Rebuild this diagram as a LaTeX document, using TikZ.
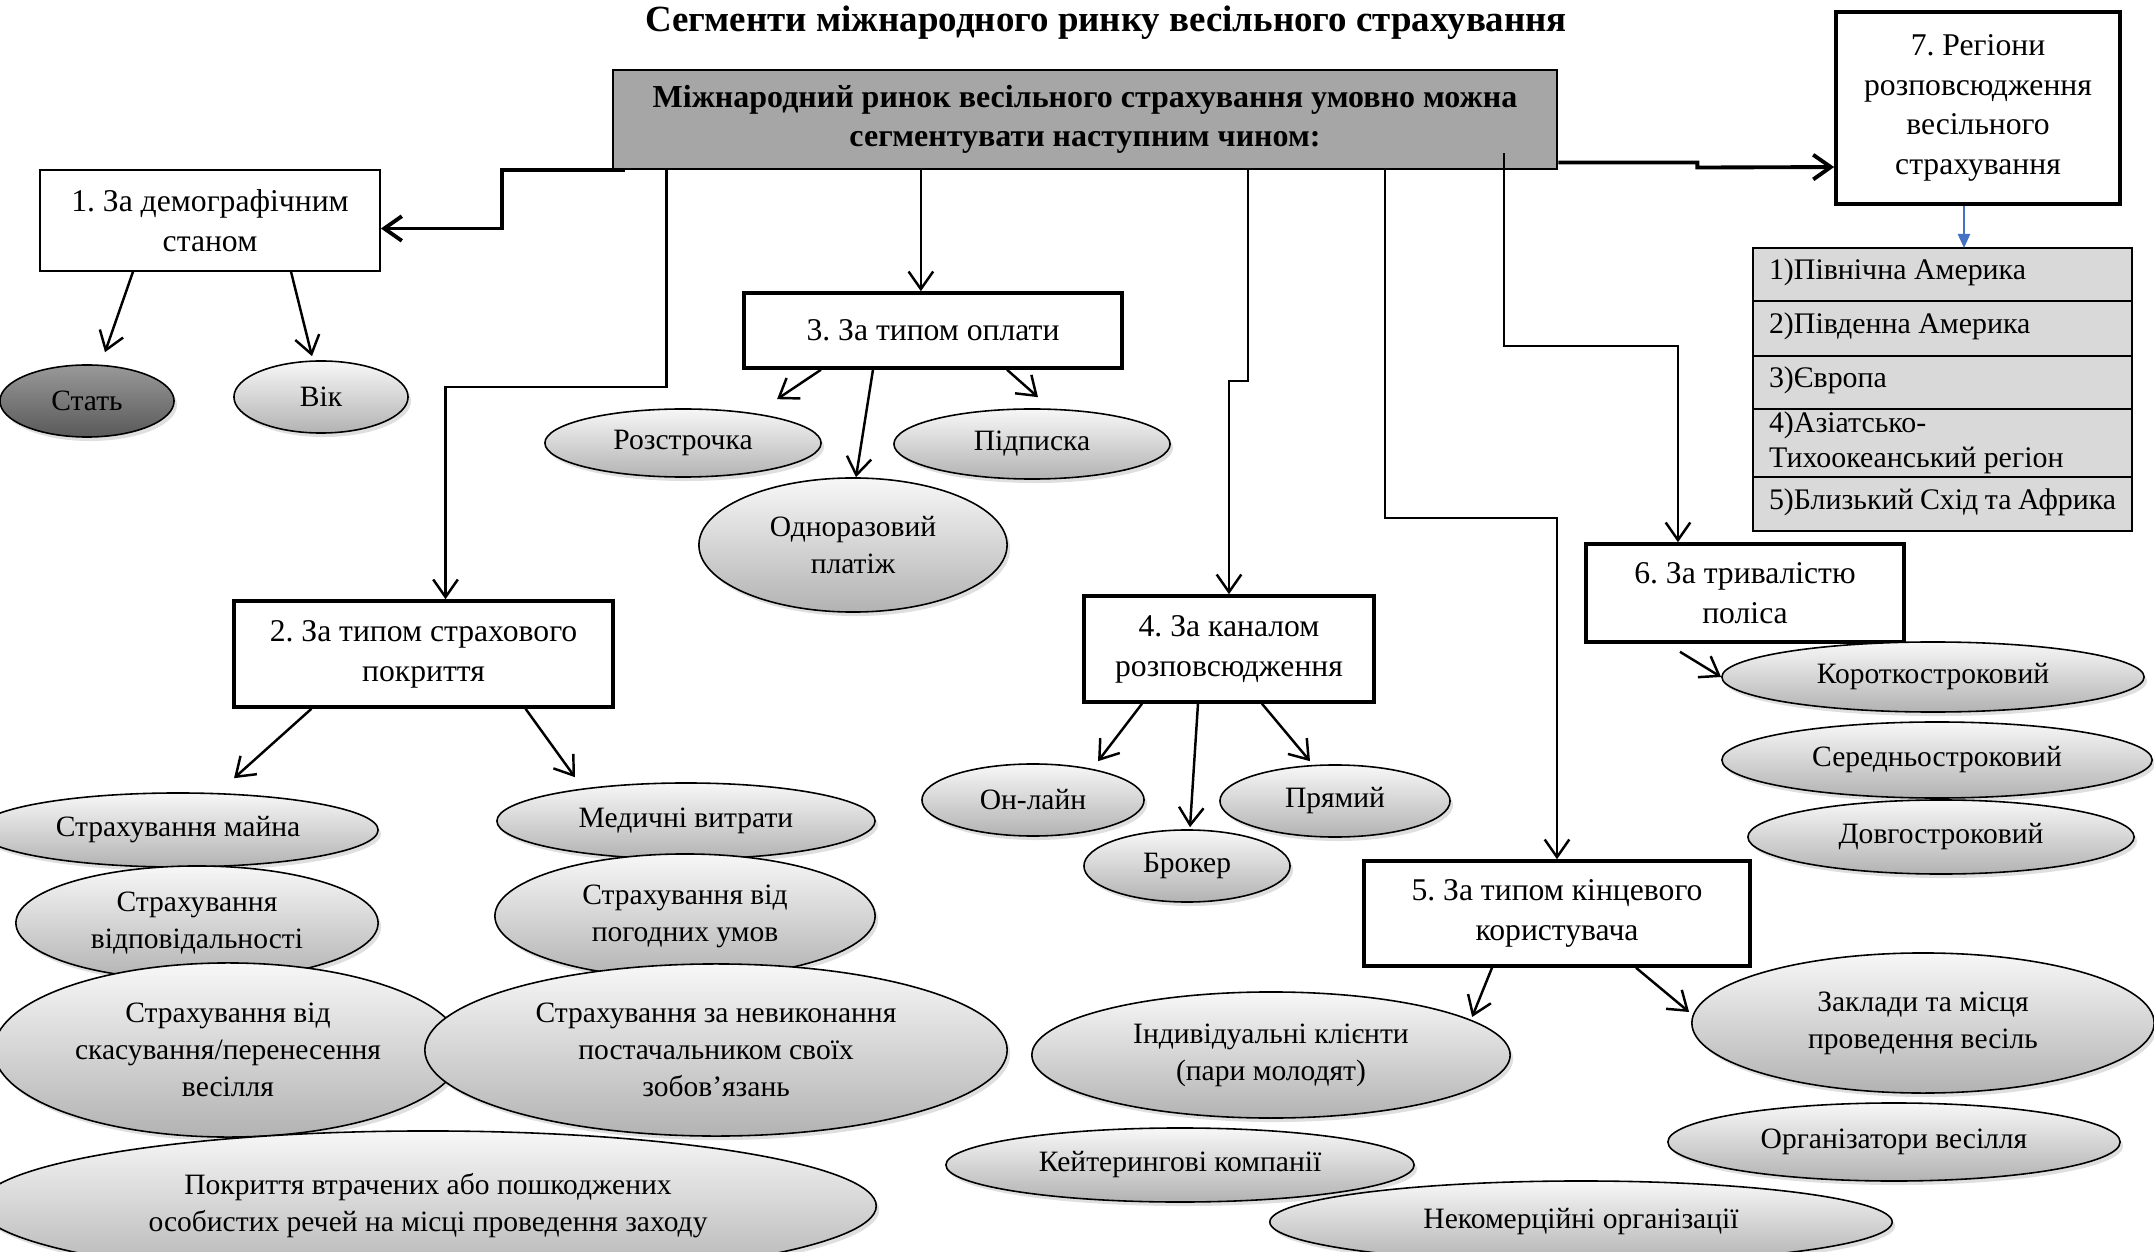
\documentclass[tikz,border=0pt]{standalone}
\usepackage{fontspec}
\setmainfont{Liberation Serif}
\frenchspacing
\usetikzlibrary{arrows.meta,shapes.geometric,shadows,positioning}
\definecolor{regblue}{HTML}{4472C4}
\tikzset{
  box/.style={draw, line width=1pt, align=center, inner sep=0pt, font=\fontsize{9}{11.4}\selectfont},
  oval/.style={ellipse, draw, line width=0.45pt, top color=black!3, bottom color=black!30,
    align=center, inner sep=0pt, font=\fontsize{8.4}{10.5}\selectfont,
    drop shadow={shadow xshift=0.03cm, shadow yshift=-0.04cm, opacity=0.25}},
  conn/.style={->, line width=0.7pt},
  rowbox/.style={draw, line width=0.55pt, fill=black!15, text width=3.47cm,
    inner xsep=0.16cm, inner ysep=0pt, outer sep=0pt, align=left, anchor=north west,
    font=\fontsize{8.5}{10}\selectfont,
    execute at begin node={\spaceskip=0pt\xspaceskip=0pt}}
}
\begin{document}
\begin{tikzpicture}[x=0.01cm, y=-0.01cm, >={Straight Barb[length=5pt,width=7pt]},
    font=\fontsize{9}{11}\selectfont]
\useasboundingbox (0,0) rectangle (2154,1252);
\clip (0,0) rectangle (2154,1252);
% title and main box
\node[font=\fontsize{10.5}{12}\selectfont\bfseries] (title) at (1106,23)
  {Сегменти міжнародного ринку весільного страхування};
\node[draw, line width=0.6pt, fill=black!35, minimum width=9.44cm, minimum height=0.99cm,
  align=center, font=\fontsize{9.1}{11}\selectfont\bfseries] (main) at (1085,119.5)
  {Міжнародний ринок весільного страхування умовно можна\\сегментувати наступним чином:};
% segment boxes
\node[box, line width=0.45pt, minimum width=3.40cm, minimum height=1.01cm] (b1) at (210,220.5) {1. За демографічним\\станом};
\node[box, minimum width=3.79cm, minimum height=1.06cm] (b2) at (423.5,654) {2. За типом страхового\\покриття};
\node[box, minimum width=3.78cm, minimum height=0.75cm] (b3) at (933,330.5) {3. За типом оплати};
\node[box, minimum width=2.90cm, minimum height=1.06cm] (b4) at (1229,649) {4. За каналом\\розповсюдження};
\node[box, minimum width=3.86cm, minimum height=1.05cm] (b5) at (1557,913.5) {5. За типом кінцевого\\користувача};
\node[box, minimum width=3.18cm, minimum height=0.98cm] (b6) at (1745,593) {6. За тривалістю\\поліса};
\node[box, minimum width=2.84cm, minimum height=1.92cm, font=\fontsize{9}{11.2}\selectfont] (b7) at (1978,108)
  {7. Регіони\\розповсюдження\\весільного\\страхування};
% regions table
\node[rowbox, minimum height=0.53cm, text depth=0.1cm] (r1) at (1753,248) {1)Північна Америка};
\node[rowbox, minimum height=0.55cm, text depth=0.1cm] (r2) at (r1.south west) {2)Південна Америка};
\node[rowbox, minimum height=0.53cm, text depth=0.1cm] (r3) at (r2.south west) {3)Європа};
\node[rowbox, minimum height=0.68cm] (r4) at (r3.south west) {4)Азіатсько-\\Тихоокеанський регіон};
\node[rowbox, minimum height=0.54cm, text depth=0.1cm] (r5) at (r4.south west) {5)Близький Схід та Африка};
% ellipses
\node[oval, top color=black!40, bottom color=black!65, minimum width=1.74cm, minimum height=0.72cm] (stat) at (87,401) {Стать};
\node[oval, minimum width=1.74cm, minimum height=0.72cm] (vik) at (321,397) {Вік};
\node[oval, minimum width=2.76cm, minimum height=0.68cm] (rozstr) at (683,443) {Розстрочка};
\node[oval, minimum width=2.76cm, minimum height=0.70cm] (pidp) at (1032,444) {Підписка};
\node[oval, minimum width=3.08cm, minimum height=1.34cm] (odnor) at (853,545) {Одноразовий\\платіж};
\node[oval, minimum width=4.00cm, minimum height=0.74cm] (majno) at (178,830) {Страхування майна};
\node[oval, minimum width=3.62cm, minimum height=1.14cm] (vidp) at (197,923) {Страхування\\відповідальності};
\node[oval, minimum width=4.68cm, minimum height=1.74cm] (skas) at (228,1050) {Страхування від\\скасування/перенесення\\весілля};
\node[oval, minimum width=3.78cm, minimum height=0.76cm] (med) at (686,821) {Медичні витрати};
\node[oval, minimum width=3.80cm, minimum height=1.24cm] (pogod) at (685,916) {Страхування від\\погодних умов};
\node[oval, minimum width=5.82cm, minimum height=1.72cm] (nevyk) at (716,1050) {Страхування за невиконання\\постачальником своїх\\зобов’язань};
\node[oval, minimum width=8.96cm, minimum height=1.50cm] (pokr) at (428,1206) {Покриття втрачених або пошкоджених\\особистих речей на місці проведення заходу};
\node[oval, minimum width=2.22cm, minimum height=0.72cm] (online) at (1033,800) {Он-лайн};
\node[oval, minimum width=2.06cm, minimum height=0.72cm] (broker) at (1187,866) {Брокер};
\node[oval, minimum width=2.30cm, minimum height=0.72cm] (pryamyj) at (1335,801) {Прямий};
\node[oval, minimum width=4.22cm, minimum height=0.70cm] (korotk) at (1933,677) {Короткостроковий};
\node[oval, minimum width=4.30cm, minimum height=0.76cm] (seredn) at (1937,760) {Середньостроковий};
\node[oval, minimum width=3.86cm, minimum height=0.74cm] (dovgo) at (1941,837) {Довгостроковий};
\node[oval, minimum width=4.78cm, minimum height=1.26cm] (indyv) at (1271,1055) {Індивідуальні клієнти\\(пари молодят)};
\node[oval, minimum width=4.62cm, minimum height=1.40cm] (zakl) at (1923,1023) {Заклади та місця\\проведення весіль};
\node[oval, minimum width=4.52cm, minimum height=0.78cm] (orgs) at (1894,1142) {Організатори весілля};
\node[oval, minimum width=4.68cm, minimum height=0.74cm] (kejt) at (1180,1165) {Кейтерингові компанії};
\node[oval, minimum width=6.22cm, minimum height=0.82cm] (nekom) at (1581,1222) {Некомерційні організації};
% taps on the main box
\coordinate (m1) at ([xshift=0.13cm]main.south west);
\coordinate (m2) at ([xshift=0.55cm]main.south west);
\coordinate (m3) at ([xshift=3.09cm]main.south west);
\coordinate (m4) at ([xshift=6.36cm]main.south west);
\coordinate (m5) at ([xshift=7.73cm]main.south west);
\coordinate (m6) at ([xshift=8.92cm,yshift=0.17cm]main.south west);
\coordinate (b7s) at ([xshift=-0.14cm]b7.south);
% connectors from the main box
\draw[conn, line width=1.1pt] (m1) -- ++(-123,0) |- ([yshift=-0.08cm]b1.east);
\draw[conn] (m2) -- ++(0,217) -| ([xshift=0.22cm]b2.north);
\draw[conn] (m3) -- (m3 |- b3.north);
\draw[conn] (m4) -- ++(0,211) -| (b4.north);
\draw[conn] (m5) -- ++(0,348) -| (b5.north);
\draw[conn] (m6) -- ++(0,193) -| ([xshift=-0.67cm]b6.north);
\draw[conn, line width=1.1pt] ([yshift=-0.43cm]main.east) -- ++(139,0) -- ++(0,5) -- ([yshift=-0.59cm]b7.west);
\draw[regblue, line width=0.5pt, -{Triangle[length=4pt,width=3.5pt]}] (b7s) -- (b7s |- r1.north);
% connectors to the ellipses
\draw[conn] ([xshift=-0.77cm]b1.south) -- ([xshift=0.18cm,yshift=0.12cm]stat.north);
\draw[conn] ([xshift=0.81cm]b1.south) -- ([xshift=-0.09cm,yshift=0.04cm]vik.north);
\draw[conn] ([xshift=-1.12cm]b3.south) -- ([xshift=0.94cm,yshift=0.09cm]rozstr.north);
\draw[conn] ([xshift=0.74cm]b3.south) -- ([xshift=0.06cm,yshift=0.11cm]pidp.north);
\draw[conn] ([xshift=-0.60cm]b3.south) -- ([xshift=0.03cm]odnor.north);
\draw[conn] ([xshift=-1.12cm]b2.south) -- ([xshift=0.56cm,yshift=0.14cm]majno.north);
\draw[conn] ([xshift=1.02cm]b2.south) -- ([xshift=-1.11cm,yshift=0.05cm]med.north);
\draw[conn] ([xshift=-0.87cm]b4.south) -- ([xshift=0.65cm,yshift=0.02cm]online.north);
\draw[conn] ([xshift=-0.31cm]b4.south) -- ([xshift=0.03cm,yshift=0.02cm]broker.north);
\draw[conn] ([xshift=0.33cm]b4.south) -- ([xshift=-0.25cm,yshift=0.03cm]pryamyj.north);
\draw[conn] ([xshift=-0.65cm,yshift=-0.08cm]b6.south) -- (korotk.west);
\draw[conn] ([xshift=-0.65cm]b5.south) -- ([xshift=2.01cm,yshift=0.38cm]indyv.center);
\draw[conn] ([xshift=0.79cm]b5.south) -- ([xshift=-0.02cm,yshift=0.11cm]zakl.west);
\end{tikzpicture}
\end{document}
